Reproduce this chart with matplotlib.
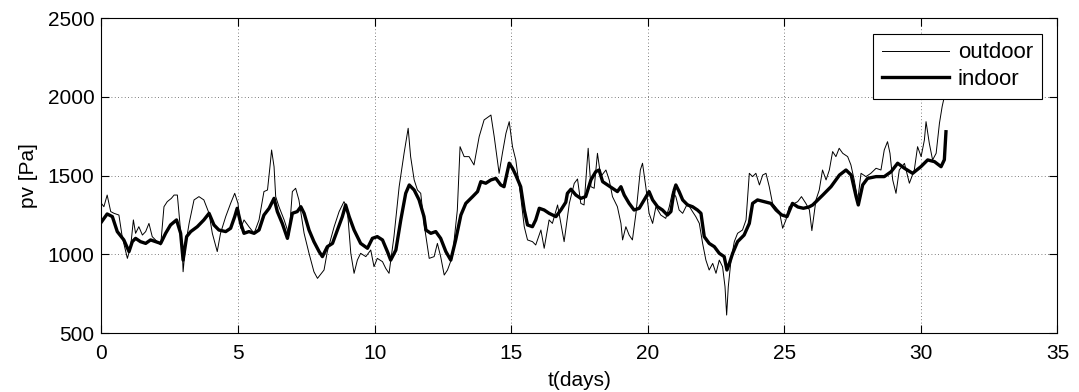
import matplotlib

matplotlib.use("Agg")

import matplotlib.pyplot as plt

# outdoor vapour pressure (thin line), days vs Pa
outdoor_t = [
    0.00, 0.09, 0.21, 0.34, 0.46, 0.64, 0.76, 0.95, 1.07, 1.17, 1.25, 1.37, 1.50, 1.62,
    1.74, 1.86, 1.98, 2.17, 2.29, 2.41, 2.56, 2.66, 2.78, 2.84, 2.96, 2.99, 3.08, 3.21,
    3.39, 3.57, 3.75, 3.94, 4.06, 4.24, 4.36, 4.55, 4.73, 4.88, 5.00, 5.10, 5.22, 5.40,
    5.59, 5.77, 5.95, 6.08, 6.17, 6.23, 6.32, 6.38, 6.50, 6.69, 6.87, 6.99, 7.11, 7.23,
    7.42, 7.60, 7.78, 7.91, 8.15, 8.27, 8.52, 8.70, 8.88, 9.00, 9.13, 9.25, 9.37, 9.49,
    9.68, 9.86, 9.98, 10.10, 10.29, 10.41, 10.53, 10.71, 10.90, 11.08, 11.23, 11.32, 11.45,
    11.57, 11.69, 11.81, 12.00, 12.18, 12.30, 12.42, 12.55, 12.67, 12.85, 13.03, 13.13,
    13.28, 13.46, 13.64, 13.83, 14.01, 14.26, 14.38, 14.56, 14.68, 14.81, 14.93, 15.05,
    15.17, 15.35, 15.48, 15.60, 15.78, 15.90, 16.09, 16.21, 16.39, 16.51, 16.70, 16.82,
    16.94, 17.13, 17.31, 17.43, 17.55, 17.67, 17.82, 17.92, 18.04, 18.16, 18.28, 18.47,
    18.59, 18.71, 18.89, 19.02, 19.08, 19.20, 19.32, 19.44, 19.57, 19.73, 19.81, 19.93,
    20.05, 20.18, 20.30, 20.48, 20.66, 20.79, 20.91, 21.03, 21.15, 21.28, 21.46, 21.64,
    21.76, 21.89, 22.01, 22.13, 22.25, 22.38, 22.50, 22.62, 22.74, 22.83, 22.89, 22.95,
    23.05, 23.17, 23.29, 23.47, 23.60, 23.66, 23.72, 23.84, 23.96, 24.09, 24.21, 24.33,
    24.45, 24.57, 24.82, 24.94, 25.06, 25.18, 25.37, 25.49, 25.63, 25.79, 25.92, 26.01,
    26.16, 26.28, 26.40, 26.53, 26.65, 26.77, 26.89, 27.01, 27.14, 27.32, 27.44, 27.56,
    27.69, 27.81, 27.99, 28.17, 28.36, 28.54, 28.66, 28.78, 28.87, 28.97, 29.09, 29.21,
    29.40, 29.58, 29.76, 29.88, 30.01, 30.13, 30.19, 30.31, 30.43, 30.56, 30.68, 30.78,
    30.86, 30.92,
]
outdoor_pv = [
    1323, 1302, 1376, 1271, 1260, 1249, 1112, 974, 1048, 1218, 1133, 1175, 1122, 1144,
    1196, 1112, 1091, 1059, 1302, 1334, 1355, 1376, 1376, 1260, 1027, 889, 1059, 1196,
    1345, 1366, 1345, 1260, 1133, 1017, 1133, 1239, 1323, 1387, 1323, 1165, 1218, 1175,
    1133, 1218, 1398, 1408, 1556, 1662, 1556, 1366, 1302, 1218, 1122, 1398, 1419, 1345,
    1133, 1006, 889, 847, 900, 1017, 1175, 1270, 1334, 1292, 1006, 879, 963, 1006,
    985, 1027, 921, 974, 953, 910, 879, 1112, 1429, 1641, 1800, 1620, 1472,
    1408, 1387, 1196, 974, 985, 1069, 985, 868, 900, 985, 1281, 1683,
    1620, 1620, 1567, 1747, 1853, 1884, 1747, 1514, 1641, 1768, 1842, 1683,
    1599, 1366, 1175, 1091, 1080, 1059, 1154, 1038, 1218, 1196, 1313, 1196,
    1080, 1323, 1450, 1478, 1323, 1313, 1673, 1429, 1419, 1641, 1493, 1535,
    1472, 1366, 1302, 1196, 1091, 1175, 1122, 1091, 1260, 1535, 1578, 1429,
    1260, 1196, 1302, 1249, 1228, 1302, 1398, 1366, 1281, 1260, 1323, 1271,
    1239, 1196, 1069, 963, 900, 942, 879, 963, 921, 794, 614, 794,
    963, 1080, 1133, 1154, 1218, 1366, 1514, 1493, 1514, 1440, 1503, 1514,
    1429, 1323, 1271, 1165, 1218, 1302, 1323, 1334, 1366, 1323, 1281, 1150,
    1345, 1408, 1535, 1472, 1535, 1652, 1620, 1673, 1641, 1620, 1567, 1472,
    1345, 1514, 1493, 1514, 1546, 1535, 1662, 1715, 1641, 1472, 1387, 1535,
    1577, 1451, 1535, 1683, 1620, 1726, 1842, 1704, 1599, 1641, 1831, 1938,
    2001, 2012,
]

# indoor vapour pressure (thick line)
indoor_t = [
    0.00, 0.21, 0.40, 0.58, 0.82, 1.01, 1.13, 1.25, 1.43, 1.62, 1.80, 1.98, 2.17, 2.35,
    2.53, 2.75, 2.90, 2.99, 3.12, 3.27, 3.51, 3.75, 3.94, 4.12, 4.30, 4.55, 4.73, 4.88,
    4.97, 5.10, 5.22, 5.40, 5.59, 5.77, 5.95, 6.14, 6.32, 6.44, 6.62, 6.81, 6.99, 7.17,
    7.30, 7.42, 7.60, 7.78, 7.97, 8.09, 8.27, 8.46, 8.64, 8.82, 8.94, 9.07, 9.25, 9.49,
    9.74, 9.92, 10.10, 10.29, 10.47, 10.59, 10.78, 10.96, 11.14, 11.27, 11.45, 11.63,
    11.81, 11.88, 12.06, 12.24, 12.42, 12.61, 12.79, 12.97, 13.16, 13.34, 13.59, 13.77,
    13.89, 14.07, 14.26, 14.44, 14.62, 14.74, 14.93, 15.05, 15.17, 15.35, 15.48, 15.60,
    15.78, 15.90, 16.03, 16.21, 16.39, 16.64, 16.82, 17.00, 17.06, 17.19, 17.37, 17.55,
    17.73, 17.92, 18.10, 18.22, 18.35, 18.53, 18.71, 18.89, 19.02, 19.14, 19.32, 19.50,
    19.69, 19.87, 20.05, 20.18, 20.36, 20.54, 20.72, 20.85, 20.97, 21.03, 21.15, 21.28,
    21.46, 21.64, 21.82, 21.95, 22.07, 22.25, 22.44, 22.62, 22.80, 22.90, 22.99, 23.11,
    23.29, 23.53, 23.72, 23.84, 24.02, 24.27, 24.51, 24.70, 24.90, 25.10, 25.30, 25.50,
    25.70, 25.90, 26.04, 26.20, 26.41, 26.71, 27.02, 27.26, 27.45, 27.63, 27.71, 27.87,
    28.05, 28.36, 28.66, 28.91, 29.15, 29.40, 29.70, 30.00, 30.25, 30.50, 30.74, 30.86,
    30.92,
]
indoor_pv = [
    1205, 1256, 1239, 1144, 1091, 1017, 1080, 1101, 1080, 1069, 1091, 1080, 1069, 1133,
    1186, 1218, 1133, 963, 1112, 1144, 1175, 1218, 1260, 1186, 1154, 1144, 1165, 1239,
    1292, 1196, 1133, 1144, 1133, 1154, 1249, 1292, 1355, 1271, 1196, 1101, 1260, 1271,
    1302, 1260, 1154, 1080, 1017, 985, 1048, 1069, 1154, 1239, 1313, 1239, 1154, 1069,
    1038, 1101, 1112, 1091, 1017, 963, 1027, 1218, 1387, 1440, 1408, 1345,
    1239, 1154, 1133, 1144, 1101, 1017, 963, 1091, 1249, 1323, 1366, 1398,
    1461, 1451, 1472, 1482, 1440, 1429, 1578, 1546, 1503, 1429, 1281, 1186,
    1175, 1218, 1292, 1281, 1260, 1239, 1281, 1330, 1387, 1413, 1376, 1355,
    1366, 1472, 1525, 1535, 1461, 1440, 1419, 1398, 1429, 1376, 1323, 1281,
    1292, 1345, 1398, 1345, 1302, 1281, 1249, 1271, 1408, 1440, 1398, 1345,
    1313, 1302, 1281, 1260, 1112, 1069, 1048, 1006, 985, 900, 942, 1006,
    1080, 1122, 1196, 1323, 1345, 1334, 1323, 1281, 1250, 1239, 1323, 1300,
    1292, 1300, 1313, 1340, 1376, 1429, 1503, 1535, 1503, 1366, 1313, 1440,
    1482, 1493, 1493, 1524, 1578, 1546, 1514, 1556, 1599, 1588, 1556, 1600,
    1778,
]

x_ticks = [0, 5, 10, 15, 20, 25, 30, 35]
y_ticks = [500, 1000, 1500, 2000, 2500]

plt.rcParams["font.family"] = ["Liberation Sans", "DejaVu Sans"]
plt.rcParams["font.size"] = 15

fig = plt.figure(figsize=(10.79, 3.92), dpi=100)
ax = fig.add_axes([0.094, 0.1505, 0.886, 0.8035])

ax.plot(outdoor_t, outdoor_pv, color="black", linewidth=0.7, label="outdoor")
ax.plot(indoor_t, indoor_pv, color="black", linewidth=2.4, label="indoor")

ax.set_xlim(0, 35)
ax.set_ylim(500, 2500)
ax.set_xticks(x_ticks)
ax.set_yticks(y_ticks)
ax.tick_params(direction="in", top=True, right=True, length=6, width=0.8)
ax.tick_params(axis="x", pad=8)
ax.tick_params(axis="y", pad=5)
ax.grid(True, color="#555555", linestyle=(0, (1, 3)), linewidth=0.6)
for spine in ax.spines.values():
    spine.set_linewidth(0.8)

ax.set_xlabel("t(days)", labelpad=6)
ax.set_ylabel("pv [Pa]", labelpad=7)

leg = ax.legend(loc="upper right", fancybox=False, framealpha=1, edgecolor="black",
                handlelength=3.0, handletextpad=0.4, labelspacing=0.25,
                borderaxespad=0.7, fontsize=16)
leg.get_frame().set_linewidth(0.8)

fig.savefig("out.png", dpi=100)
